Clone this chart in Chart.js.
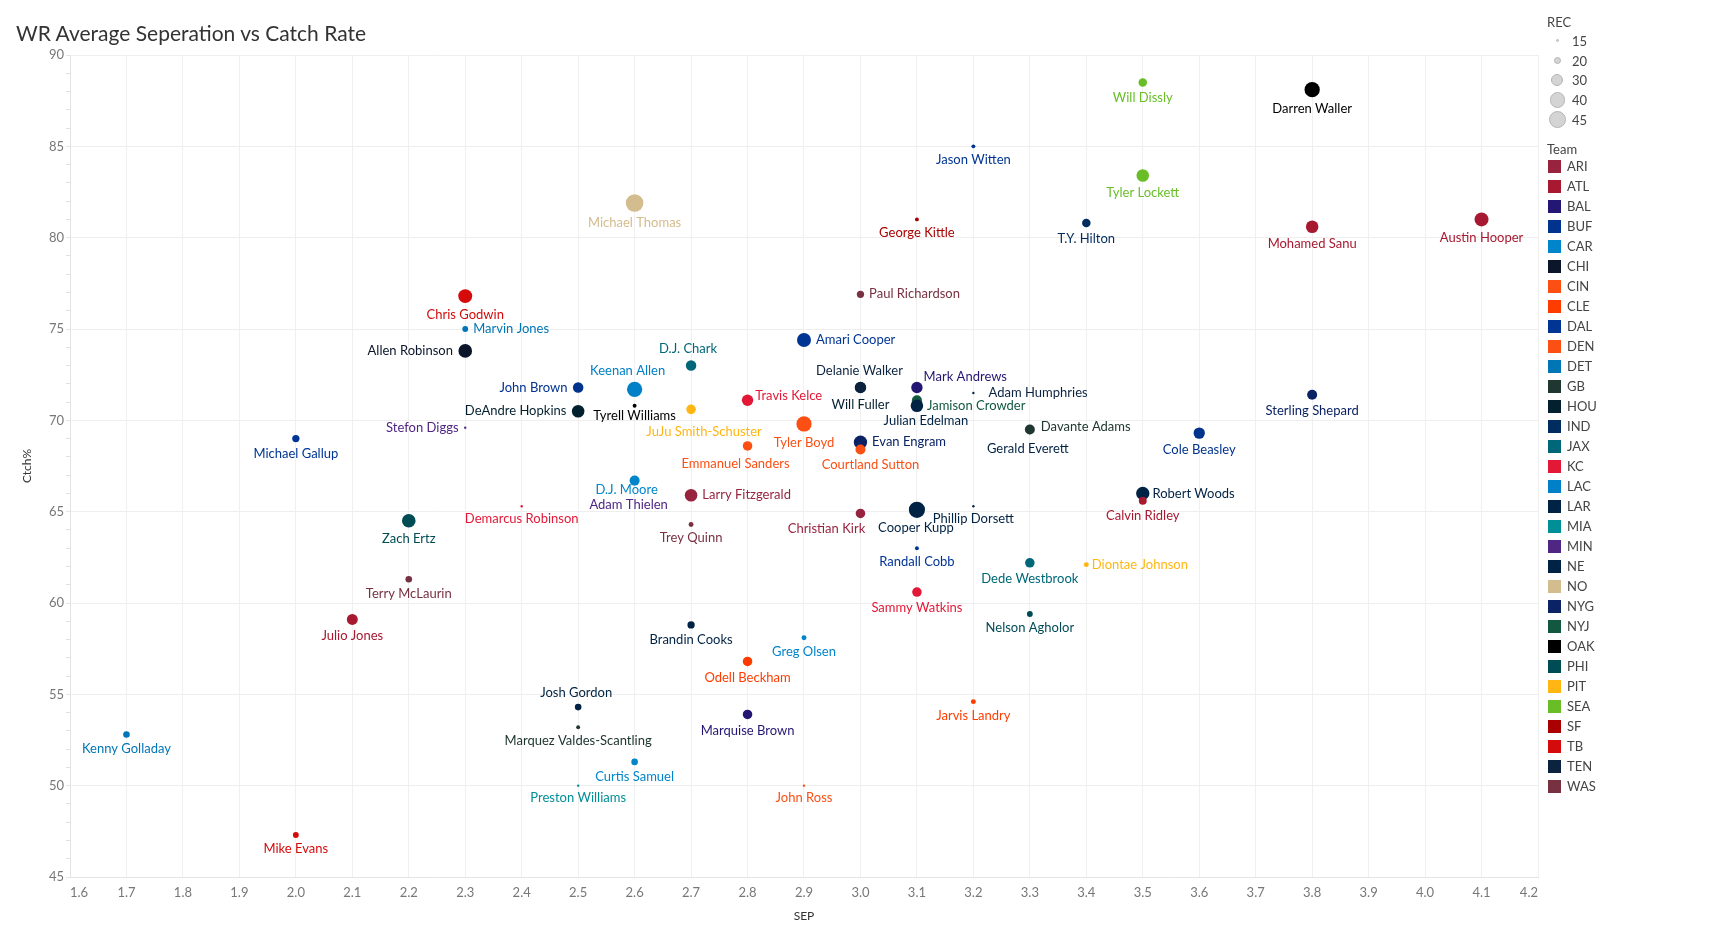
<!DOCTYPE html>
<html>
<head>
<meta charset="utf-8">
<title>WR Average Seperation vs Catch Rate</title>
<script src="https://cdn.jsdelivr.net/npm/chart.js"></script>
<style>
  html, body { margin: 0; padding: 0; background: #fff; }
  #wrap { position: relative; width: 1709px; height: 944px; overflow: hidden; font-family: Lato, 'Noto Sans', sans-serif; }
  #title { position: absolute; left: 16px; top: 20px; font-size: 21px; color: #333; white-space: nowrap; }
  .lg { position: absolute; font-size: 13px; color: #444; line-height: 16px; white-space: nowrap; }
  .dot { position: absolute; border-radius: 50%; background: #d4d4d4; box-sizing: border-box; border: 1.5px solid #b5b5b5; }
  .sw { position: absolute; width: 13px; height: 13px; }
</style>
</head>
<body>
<div id="wrap">
  <canvas id="chart"></canvas>
  <div id="title">WR Average Seperation vs Catch Rate</div>
  <div id="legend"></div>
</div>
<script>
// data
const players = ['Will Dissly','Darren Waller','Jason Witten','Tyler Lockett','Michael Thomas','George Kittle','T.Y. Hilton','Mohamed Sanu','Austin Hooper','Paul Richardson',
  'Chris Godwin','Marvin Jones','Allen Robinson','Amari Cooper','D.J. Chark','Keenan Allen','John Brown','Will Fuller','Delanie Walker','Mark Andrews',
  'Adam Humphries','Travis Kelce','DeAndre Hopkins','Tyrell Williams','JuJu Smith-Schuster','Jamison Crowder','Julian Edelman','Gerald Everett','Davante Adams','Sterling Shepard',
  'Cole Beasley','Stefon Diggs','Michael Gallup','Tyler Boyd','Evan Engram','Courtland Sutton','Emmanuel Sanders','Adam Thielen','D.J. Moore','Larry Fitzgerald',
  'Demarcus Robinson','Zach Ertz','Christian Kirk','Cooper Kupp','Phillip Dorsett','Robert Woods','Calvin Ridley','Trey Quinn','Randall Cobb','Dede Westbrook',
  'Diontae Johnson','Terry McLaurin','Sammy Watkins','Julio Jones','Nelson Agholor','Brandin Cooks','Greg Olsen','Odell Beckham','Josh Gordon','Marquise Brown',
  'Jarvis Landry','Kenny Golladay','Marquez Valdes-Scantling','Curtis Samuel','Preston Williams','John Ross','Mike Evans'];
const teams = ['SEA','OAK','DAL','SEA','NO','SF','IND','ATL','ATL','WAS',
  'TB','DET','CHI','DAL','JAX','LAC','BUF','HOU','TEN','BAL',
  'TEN','KC','HOU','OAK','PIT','NYJ','NE','LAR','GB','NYG',
  'BUF','MIN','DAL','CIN','NYG','DEN','DEN','MIN','CAR','ARI',
  'KC','PHI','ARI','LAR','NE','LAR','ATL','WAS','DAL','JAX',
  'PIT','WAS','KC','ATL','PHI','LAR','CAR','CLE','NE','BAL',
  'CLE','DET','GB','CAR','MIA','CIN','TB'];
const sep = [3.5,3.8,3.2,3.5,2.6,3.1,3.4,3.8,4.1,3.0,
  2.3,2.3,2.3,2.9,2.7,2.6,2.5,3.0,3.0,3.1,
  3.2,2.8,2.5,2.6,2.7,3.1,3.1,3.3,3.3,3.8,
  3.6,2.3,2.0,2.9,3.0,3.0,2.8,2.6,2.6,2.7,
  2.4,2.2,3.0,3.1,3.2,3.5,3.5,2.7,3.1,3.3,
  3.4,2.2,3.1,2.1,3.3,2.7,2.9,2.8,2.5,2.8,
  3.2,1.7,2.5,2.6,2.5,2.9,2.0];
const ctch = [88.5,88.1,85.0,83.4,81.9,81.0,80.8,80.6,81.0,76.9,
  76.8,75.0,73.8,74.4,73.0,71.7,71.8,71.8,71.8,71.8,
  71.5,71.1,70.5,70.8,70.6,71.1,70.8,69.4,69.5,71.4,
  69.3,69.6,69.0,69.8,68.8,68.4,68.6,66.6,66.7,65.9,
  65.3,64.5,64.9,65.1,65.3,66.0,65.6,64.3,63.0,62.2,
  62.1,61.3,60.6,59.1,59.4,58.8,58.1,56.8,54.3,53.9,
  54.6,52.8,53.2,51.3,50.0,50.0,47.3];
const rec = [22,39,16,31,47,16,22,31,35,20,
  35,18,34,35,26,39,26,28,27,28,
  15,28,31,16,24,25,31,18,25,25,
  28,15,20,39,33,25,24,16,25,31,
  15,34,24,42,15,33,21,17,16,24,
  17,19,24,27,18,20,17,24,19,24,
  17,19,16,19,15,15,18];

const recLegend = [15, 20, 30, 40, 45];
const teamList = ['ARI','ATL','BAL','BUF','CAR','CHI','CIN','CLE','DAL','DEN','DET','GB','HOU','IND','JAX','KC',
  'LAC','LAR','MIA','MIN','NE','NO','NYG','NYJ','OAK','PHI','PIT','SEA','SF','TB','TEN','WAS'];
const teamColors = ['#97233F','#A71930','#241773','#00338D','#0085CA','#0B162A','#FB4F14','#FF3C00','#003594','#FB4F14','#0076B6','#203731','#03202F','#002C5F','#006778','#E31837',
  '#0080C6','#002244','#008E97','#4F2683','#002244','#D3BC8D','#0B2265','#125740','#000000','#004C54','#FFB612','#69BE28','#AA0000','#D50A0A','#0C2340','#773141'];

const colorOf = t => teamColors[teamList.indexOf(t)];
const sizeOf = n => 1.54 * Math.sqrt(Math.max(n - 14.4, 0.3));

// where each label sits relative to its mark: side, dx, dy
const labelPos = {
  'Paul Richardson': ['r', 0, 0], 'Marvin Jones': ['r', 0, 0], 'Allen Robinson': ['l', 0, 0], 'Amari Cooper': ['r', 0, 0],
  'D.J. Chark': ['t', -3, 0], 'Keenan Allen': ['t', -7, 0], 'John Brown': ['l', 0, 0], 'Delanie Walker': ['t', -1, 0],
  'Mark Andrews': ['r', -4, -11], 'Adam Humphries': ['r', 9, 0], 'Travis Kelce': ['r', -3, -4], 'DeAndre Hopkins': ['l', 0, 0],
  'Tyrell Williams': ['b', 0, -3], 'JuJu Smith-Schuster': ['b', 13, 6], 'Jamison Crowder': ['r', 0, 6], 'Julian Edelman': ['b', 9, -2],
  'Gerald Everett': ['b', -2, 3], 'Davante Adams': ['r', 1, -3], 'Stefon Diggs': ['l', 0, 0], 'Evan Engram': ['r', 0, 0],
  'Courtland Sutton': ['b', 10, -1], 'Emmanuel Sanders': ['b', -12, 2], 'D.J. Moore': ['b', -8, -7], 'Adam Thielen': ['b', -6, 9],
  'Larry Fitzgerald': ['r', 0, 0], 'Christian Kirk': ['b', -34, -1], 'Cooper Kupp': ['b', -1, -1], 'Robert Woods': ['r', -2, 0],
  'Diontae Johnson': ['r', -2, 0], 'Josh Gordon': ['t', -2, 0]
};

const pointLabels = {
  id: 'pointLabels',
  afterDatasetsDraw(chart) {
    const ctx = chart.ctx;
    const meta = chart.getDatasetMeta(0);
    ctx.save();
    ctx.font = '13px Lato';
    meta.data.forEach((el, i) => {
      const r = sizeOf(rec[i]);
      const [side, dx, dy] = labelPos[players[i]] || ['b', 0, 0];
      let x = el.x + dx, y = el.y + dy;
      ctx.textBaseline = 'middle';
      if (side === 'b') { ctx.textAlign = 'center'; y += r + 11.3; }
      else if (side === 't') { ctx.textAlign = 'center'; y -= r + 11; }
      else if (side === 'r') { ctx.textAlign = 'left'; x += r + 5; }
      else { ctx.textAlign = 'right'; x -= r + 5.5; }
      ctx.fillStyle = colorOf(teams[i]);
      ctx.fillText(players[i], x, y);
    });
    ctx.restore();
  }
};

Chart.defaults.font.family = 'Lato';

new Chart(document.getElementById('chart'), {
  type: 'bubble',
  data: {
    datasets: [{
      data: players.map((p, i) => ({ x: sep[i], y: ctch[i], r: sizeOf(rec[i]) })),
      backgroundColor: teams.map(colorOf),
      borderWidth: 0,
      hoverBorderWidth: 0
    }]
  },
  options: {
    responsive: true,
    maintainAspectRatio: false,
    animation: false,
    layout: { padding: { left: 16, top: 55, right: 171, bottom: 17 } },
    plugins: { legend: { display: false }, tooltip: { enabled: false } },
    scales: {
      x: {
        type: 'linear', min: 1.6, max: 4.2,
        afterFit: s => { s.height = 50; },
        ticks: { stepSize: 0.1, autoSkip: false, maxRotation: 0, padding: 8, align: 'inner', color: '#777', font: { size: 13 },
          callback: v => v.toFixed(1) },
        grid: { color: '#f0f0f0', drawTicks: false },
        border: { color: '#e4e4e4' },
        title: { display: true, text: 'SEP', color: '#333', font: { size: 12 } }
      },
      y: {
        type: 'linear', min: 45, max: 90,
        afterFit: s => { s.width = 54; },
        ticks: { stepSize: 1, autoSkip: false, padding: 2, color: '#777', font: { size: 13 },
          callback: v => (v % 5 === 0 ? String(v) : '') },
        grid: {
          color: c => (c.tick && c.tick.value % 5 === 0 ? '#eeeeee' : 'rgba(0,0,0,0)'),
          tickColor: c => (c.tick && c.tick.value % 5 === 0 ? '#e6e6e6' : '#e0e0e0'),
          tickLength: 4
        },
        border: { color: '#e4e4e4' },
        title: { display: true, text: 'Ctch%', color: '#333', font: { size: 12 } }
      }
    }
  },
  plugins: [pointLabels]
});

// legend: size and colour
const legend = document.getElementById('legend');
let html = '<div class="lg" style="left:1547px;top:14px">REC</div>';
recLegend.forEach((n, i) => {
  const cy = 40.7 + i * 19.8;
  const d = Math.max(sizeOf(n) * 2, 3);
  html += `<div class="dot" style="left:${1557.3 - d / 2}px;top:${cy - d / 2}px;width:${d}px;height:${d}px"></div>`;
  html += `<div class="lg" style="left:1572px;top:${cy - 8}px">${n}</div>`;
});
html += '<div class="lg" style="left:1547px;top:141px">Team</div>';
teamList.forEach((t, i) => {
  const cy = 166 + i * 20;
  html += `<div class="sw" style="left:1548px;top:${cy - 6.5}px;background:${teamColors[i]}"></div>`;
  html += `<div class="lg" style="left:1567px;top:${cy - 8}px">${t}</div>`;
});
legend.innerHTML = html;
</script>
</body>
</html>
